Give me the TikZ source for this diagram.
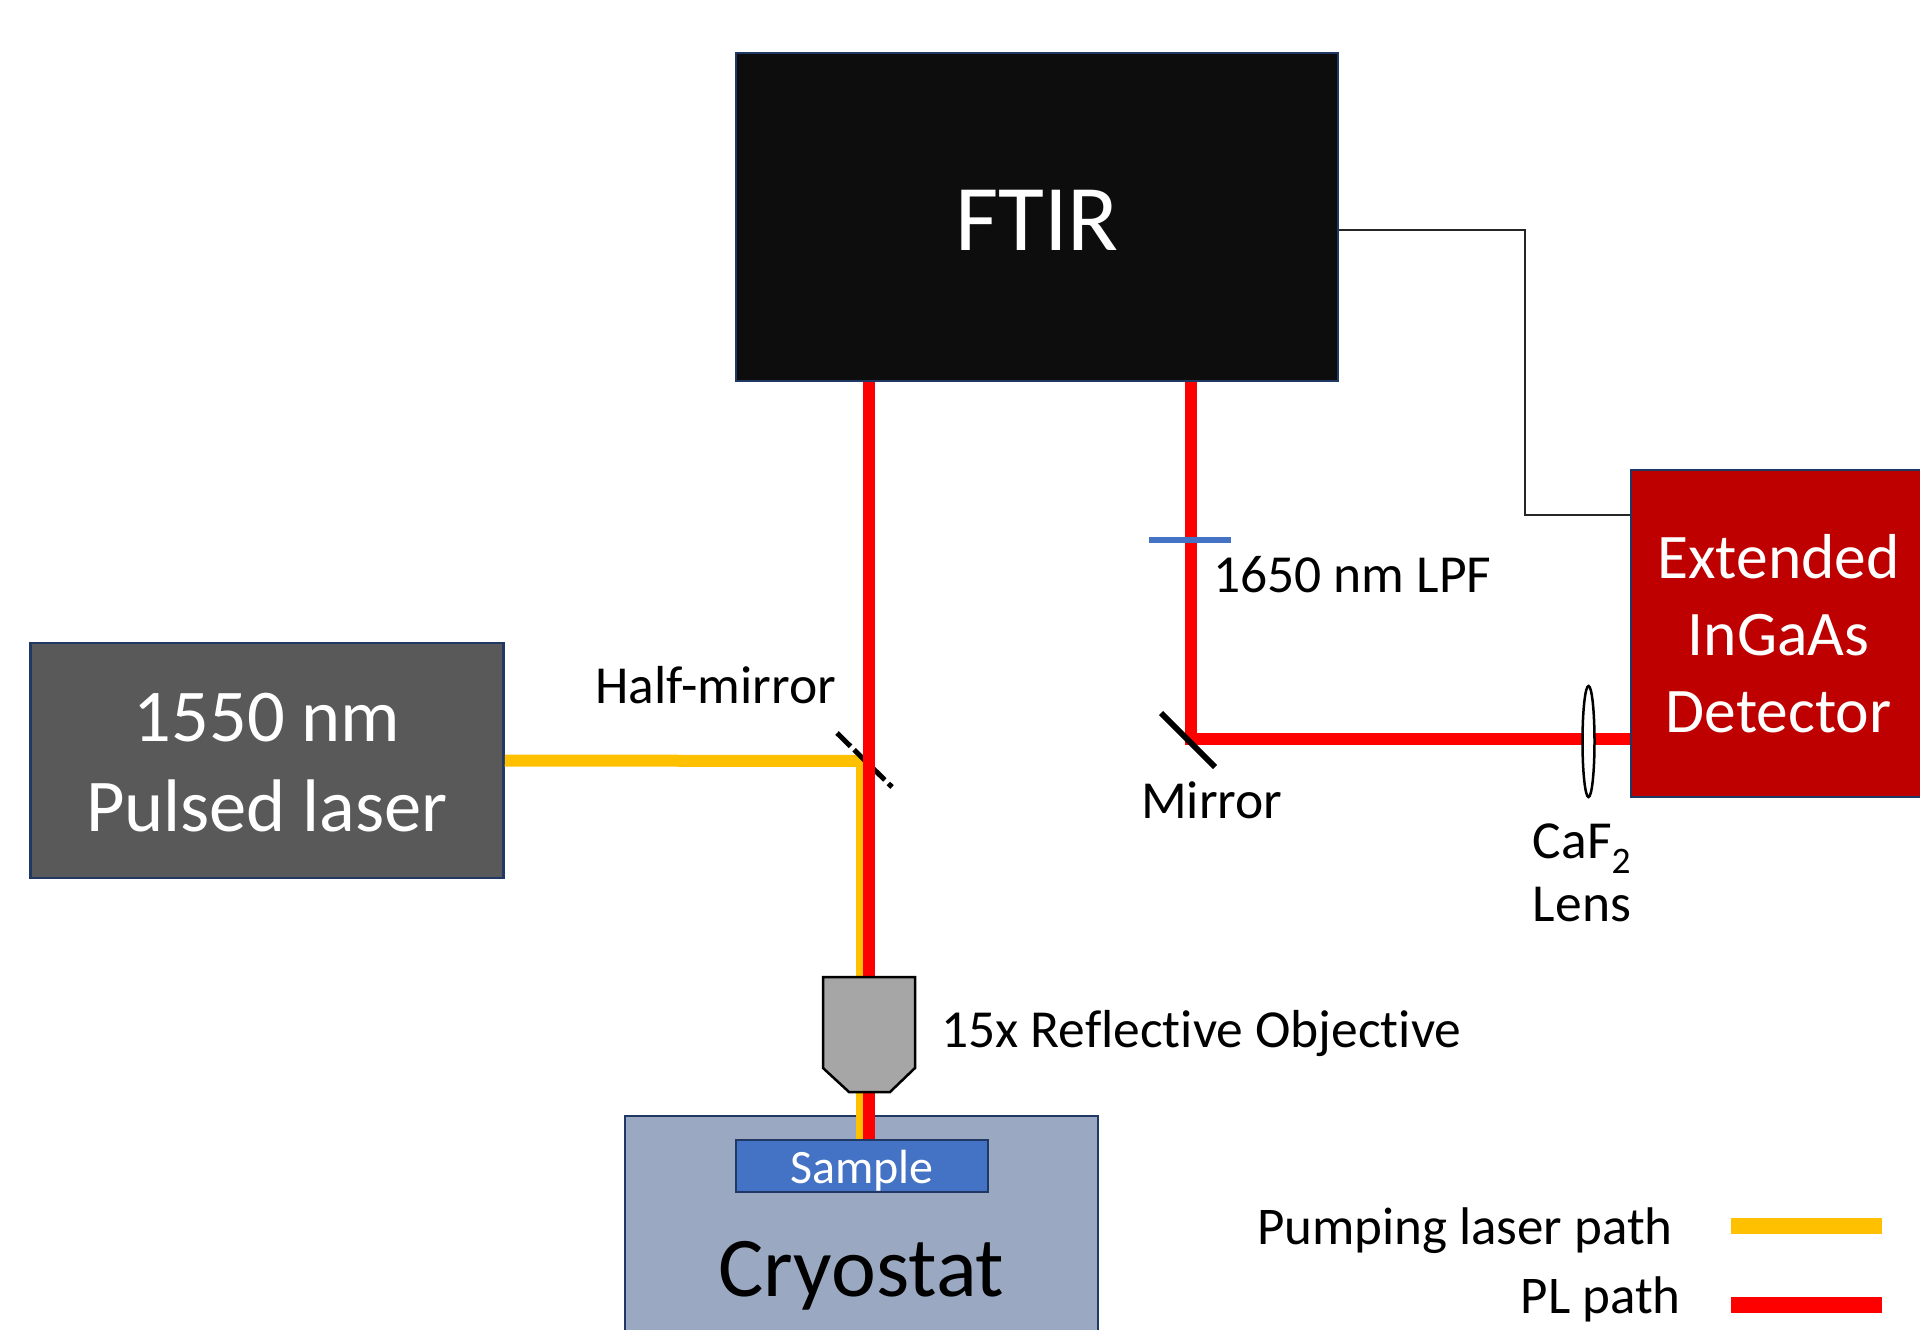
\documentclass[tikz,border=0pt]{standalone}
\usepackage{fontspec}
\setmainfont{Carlito}[Ligatures=NoCommon]
\usetikzlibrary{positioning,shapes.geometric}
\definecolor{edgeblue}{HTML}{1F3864}
\definecolor{pumpyellow}{HTML}{FFC000}
\definecolor{filterblue}{HTML}{4472C4}
\definecolor{cryoblue}{HTML}{9AA9C1}
\begin{document}
\begin{tikzpicture}[
     x=1pt, y=-1pt,
     node distance = 12pt and 12pt,
        box/.style = {rectangle, draw=edgeblue, line width=2.5pt, inner sep=0pt, align=center, text=white},
        lbl/.style = {inner sep=0pt, align=center, font=\fontsize{53.5}{63}\selectfont},
        pump/.style = {draw=pumpyellow, line width=12pt},
        plbeam/.style = {draw=red, line width=12pt},
        optic/.style = {draw=black, line width=6pt}
                        ]
\path[use as bounding box, clip] (0,0) rectangle (1920,1330);
\node (ftir)[box, fill=black!95, minimum width=602pt, minimum height=328pt, text height=66pt, text depth=0pt, font=\fontsize{94}{110}\selectfont] at (1037,217) {FTIR};
\node (laser)[box, fill=black!65, minimum width=473pt, minimum height=235pt, font=\fontsize{74.5}{90}\selectfont] at (267,760.5) {\rule{0pt}{53pt}1550 nm\\Pulsed laser};
\node (detector)[box, fill=red!75!black, minimum width=295pt, minimum height=327pt, font=\fontsize{63.5}{77}\selectfont] at (1778.5,633.5) {Extended\\InGaAs\\Detector};
\node (cryostat)[box, fill=cryoblue, minimum width=473pt, minimum height=319pt, text=black, font=\fontsize{85}{100}\selectfont] at (861.5,1275.5) {Cryostat};
\node (sample)[box, fill=filterblue, minimum width=252pt, minimum height=52pt, text height=38pt, text depth=3pt, font=\fontsize{48}{58}\selectfont] at (862,1166) {Sample};
\coordinate (pumpbend) at (862,761);
\coordinate (split) at (869,761);
\coordinate (fold) at (1191,739);
\coordinate (wireup) at (1525,230);
\coordinate (wiredown) at (1525,515);
\draw[pump] (laser.east) -- (pumpbend) -- (sample.north -| pumpbend);
\draw[line width=5pt, dash pattern=on 19pt off 5pt] (837,733) -- (892,787);
\draw[plbeam] (ftir.south -| split) -- (sample.north -| split);
\draw[plbeam] (ftir.south -| fold) -- (fold) -- (detector.west |- fold);
\draw[draw=black!85, line width=1.5pt] (ftir.east |- wireup) -- (wireup) -- (wiredown) -- (detector.west |- wiredown);
\draw[optic] (1161,713) -- (1215,767);
\draw[draw=filterblue, line width=6pt] (1149,539.5) -- (1231,539.5);
\node (lens)[ellipse, draw, fill=white, line width=2.5pt, minimum width=12pt, minimum height=111pt, inner sep=0pt] at (1588.5,741.5) {};
\draw[draw=black, fill=black!35, line width=2.5pt] (823,977) -- (915,977) -- (915,1068) -- (890,1092) -- (849,1092) -- (823,1068) -- cycle;
\node (halflabel)[lbl, anchor=base west] at (595,703) {Half-mirror};
\node (lpflabel)[lbl, anchor=base west] at (1213,592) {1650 nm LPF};
\node (mirrorlabel)[lbl, anchor=base west] at (1141,818) {Mirror};
\node (lenslabel)[lbl, anchor=base] at (1582,921) {CaF\textsubscript{2}\\Lens};
\node (objlabel)[lbl, anchor=base west] at (941,1047) {15x Reflective Objective};
\coordinate (pumpa) at (1731,1226);
\coordinate (pumpb) at (1882,1226);
\coordinate (pla) at (1731,1305);
\coordinate (plb) at (1882,1305);
\draw[draw=pumpyellow, line width=16pt] (pumpa) -- (pumpb);
\draw[draw=red, line width=16pt] (pla) -- (plb);
\node (pumplabel)[lbl, anchor=base east, font=\fontsize{53}{63}\selectfont] at (1673,1244) {Pumping laser path};
\node (pllabel)[lbl, anchor=base east, font=\fontsize{53}{63}\selectfont] at (1681,1313) {PL path};
\end{tikzpicture}
\end{document}
